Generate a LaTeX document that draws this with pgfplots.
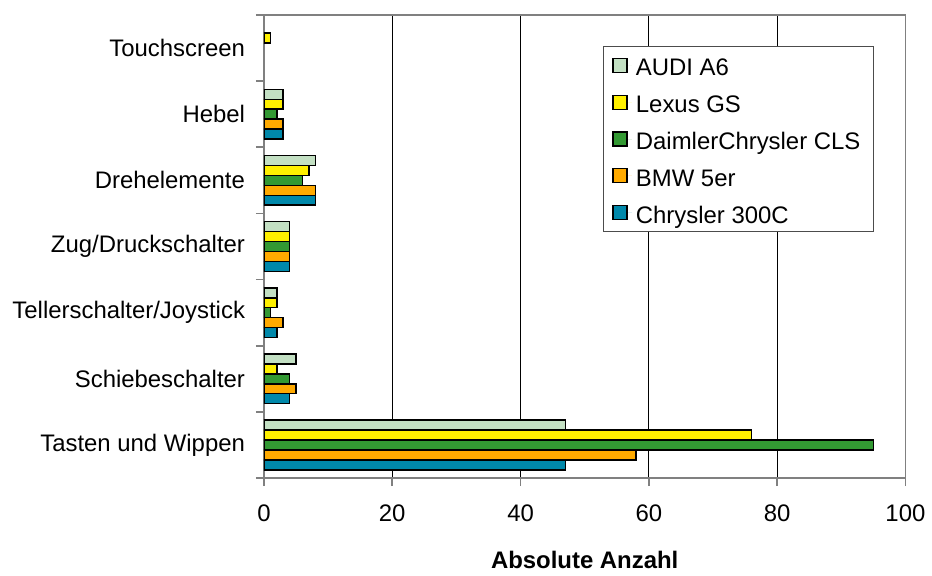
\documentclass[border=0pt]{standalone}
\usepackage{fontspec}
\setmainfont{Liberation Sans}
\usepackage{pgfplots}
\pgfplotsset{compat=1.18}

\definecolor{audi}{HTML}{C3E0C3}
\definecolor{lexus}{HTML}{FFF000}
\definecolor{daimler}{HTML}{339933}
\definecolor{bmw}{HTML}{FFAA00}
\definecolor{chrysler}{HTML}{0088AA}

\begin{document}
\begin{tikzpicture}
\begin{axis}[
    scale only axis,
    width=322pt, height=232.5pt,
    xmin=0, xmax=100, ymin=-0.5, ymax=6.5,
    xbar, bar width=0.15,
    xtick={0,20,...,100},
    ytick={-0.5,0.5,...,6.5}, yticklabels={},
    extra y ticks={0,1,2,3,4,5,6},
    extra y tick labels={Tasten und Wippen,Schiebeschalter,Tellerschalter/Joystick,Zug/Druckschalter,Drehelemente,Hebel,Touchscreen},
    extra y tick style={major tick length=0pt, yticklabel style={xshift=-6pt}},
    tick align=outside, xtick pos=bottom, ytick pos=left,
    major tick length=4pt,
    xmajorgrids, major grid style={black, line width=0.5pt},
    axis line style={gray, line width=0.8pt},
    tick style={gray, line width=0.8pt},
    ticklabel style={font=\fontsize{12}{14}\selectfont},
    /pgf/number format/assume math mode=true,
    xticklabel style={yshift=-6pt},
    xlabel={\bfseries Absolute Anzahl},
    xlabel style={font=\fontsize{12}{14}\selectfont, yshift=-8pt},
    legend style={at={(0.528,0.933)}, anchor=north west, draw=gray!60!black,
        font=\fontsize{12}{14}\selectfont, row sep=0pt, inner xsep=4.5pt, inner ysep=0.25pt,
        nodes={text height=11.3pt, text depth=0.7pt, inner ysep=3.25pt},
        legend cell align=left},
    legend image code/.code={
        \path[draw=none] (0pt,0pt) -- (10pt,0pt);
        \draw[#1,draw=black,line width=0.6pt] (0.5pt,-3.5pt) rectangle (7.5pt,3.5pt);},
]
\addplot[draw=black, line width=0.75pt, fill=audi, bar shift=0.3]
    coordinates {(47,0) (5,1) (2,2) (4,3) (8,4) (3,5)};
\addplot[draw=black, line width=0.75pt, fill=lexus, bar shift=0.15]
    coordinates {(76,0) (2,1) (2,2) (4,3) (7,4) (3,5) (1,6)};
\addplot[draw=black, line width=0.75pt, fill=daimler, bar shift=0]
    coordinates {(95,0) (4,1) (1,2) (4,3) (6,4) (2,5)};
\addplot[draw=black, line width=0.75pt, fill=bmw, bar shift=-0.15]
    coordinates {(58,0) (5,1) (3,2) (4,3) (8,4) (3,5)};
\addplot[draw=black, line width=0.75pt, fill=chrysler, bar shift=-0.3]
    coordinates {(47,0) (4,1) (2,2) (4,3) (8,4) (3,5)};
\legend{AUDI A6,Lexus GS,DaimlerChrysler CLS,BMW 5er,Chrysler 300C}
\end{axis}
\path (current axis.south west) ++(-132.5pt,-43.5pt) (current axis.north east) ++(11.5pt,7.5pt);
\end{tikzpicture}
\end{document}
